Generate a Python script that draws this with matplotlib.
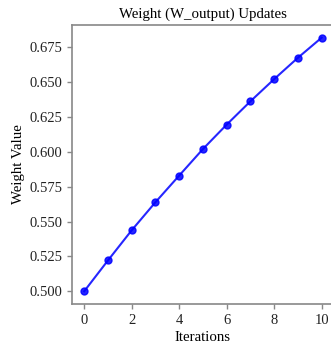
import matplotlib
matplotlib.use("Agg")
import matplotlib.pyplot as plt

iterations = [0, 1, 2, 3, 4, 5, 6, 7, 8, 9, 10]
weights = [0.5000, 0.5221, 0.5437, 0.5638, 0.5829, 0.6019, 0.6194, 0.6361, 0.6520, 0.6673, 0.6817]
title = "Weight (W_output) Updates"
xlabel = "Iterations"
ylabel = "Weight Value"
xticks = [0, 2, 4, 6, 8, 10]
yticks = [0.500, 0.525, 0.550, 0.575, 0.600, 0.625, 0.650, 0.675]

plt.rcParams['font.family'] = ['Liberation Serif', 'DejaVu Serif']

fig = plt.figure(figsize=(3.31, 3.47), dpi=100)
ax = fig.add_axes([72.3/331, 43/347, 261.2/331, 279/347])
ax.plot(iterations, weights, color='blue', marker='o', markersize=5, linewidth=1.5, alpha=0.85, markerfacecolor='blue', markeredgecolor='blue')
ax.set_title(title, fontsize=10.75, pad=5)
ax.set_xlabel(xlabel, fontsize=10.75, labelpad=3)
ax.set_ylabel(ylabel, fontsize=10.75, labelpad=3)
ax.set_xticks(xticks)
ax.set_xticklabels([str(v) for v in xticks])
ax.set_yticks(yticks)
ax.set_yticklabels([f"{v:.3f}" for v in yticks])
for s in ax.spines.values():
    s.set_color('#888888')
    s.set_linewidth(1.2)
ax.tick_params(colors='#888888', labelcolor='#222222', labelsize=10.5, width=1.0, length=3.5)
fig.savefig("out.png", dpi=100)
